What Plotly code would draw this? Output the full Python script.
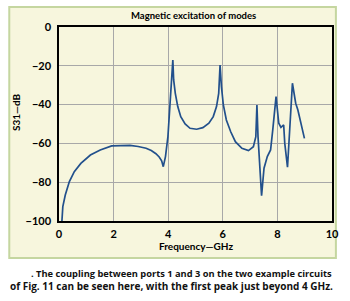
import plotly.graph_objects as go

freq_ghz = [0.107, 0.14, 0.23, 0.38, 0.56, 0.8, 1.15, 1.51, 1.93, 2.3, 2.6, 2.9, 3.19, 3.38, 3.55,
            3.67, 3.76, 3.82, 3.9, 3.99, 4.08, 4.14, 4.17,
            4.2, 4.26, 4.35, 4.46, 4.62, 4.8, 5.04, 5.27, 5.49, 5.65, 5.77, 5.85, 5.9,
            5.95, 6.02, 6.13, 6.29, 6.46, 6.7, 6.94,
            7.12, 7.21, 7.25, 7.29, 7.42, 7.51, 7.63, 7.75, 7.83, 7.95, 8.05, 8.13, 8.23,
            8.27, 8.37, 8.45, 8.55, 8.67, 8.75, 8.99]
s31_db = [-100, -92.6, -86.6, -79.7, -74.6, -70.3, -66, -63.4, -61.3, -61.1, -61, -61.6, -62.5, -63.7, -65.3,
          -67, -69, -72, -66.8, -56.5, -37.6, -22, -17,
          -27.3, -34.2, -41, -46.2, -50, -52.2, -52.7, -51.9, -49.6, -46.2, -41, -34.2, -19.6,
          -30.8, -40.2, -47.9, -54, -59.1, -62.5, -63.7,
          -61.7, -56.5, -40.2, -56.5, -87, -72.8, -66.8, -63.4, -53, -35.9, -49.6, -51.7, -50.5,
          -60, -72.3, -54.8, -29, -39.3, -42.8, -57.4]

x_ticks = [0, 2, 4, 6, 8, 10]
y_ticks = [0, -20, -40, -60, -80, -100]

title_text = "Magnetic excitation of modes"
x_title = "Frequency\u2014GHz"
y_title = "S31\u2014dB"
caption_1 = ". The coupling between ports 1 and 3 on the two example circuits"
caption_2 = "of Fig. 11 can be seen here, with the first peak just beyond 4 GHz."

cond = "Lato, sans-serif"

fig = go.Figure()
fig.add_trace(go.Scatter(x=freq_ghz, y=s31_db, mode="lines",
                         line=dict(color="#22508c", width=1.7), hoverinfo="skip"))

axis_common = dict(showline=True, linecolor="black", linewidth=1.5, mirror=True,
                   showgrid=True, gridcolor="#a8a8a8", gridwidth=1, zeroline=False,
                   ticks="", tickfont=dict(family=cond, size=11, color="black", weight="bold"))

fig.update_xaxes(range=[0, 10], tickvals=x_ticks, ticklabelstandoff=2, **axis_common)
fig.update_yaxes(range=[-100, 0], tickvals=y_ticks, ticklabelstandoff=4, **axis_common)

W, H = 350, 301
L, R, T, B = 59, 11, 27, 80
pw, ph = W - L - R, H - T - B

def px_x(p):
    return (p - L) / pw

def px_y(p):
    return (H - B - p) / ph

fig.add_shape(type="rect", xref="paper", yref="paper", layer="below",
              x0=px_x(8), x1=px_x(343), y0=px_y(258), y1=px_y(7),
              fillcolor="#f7f6dd", line=dict(color="#c5d6a0", width=2))

def label(text, x, y, size, fam=cond, angle=0, color="black"):
    fig.add_annotation(text=text, xref="paper", yref="paper", x=px_x(x), y=px_y(y),
                       xanchor="center", yanchor="middle", showarrow=False, textangle=angle,
                       font=dict(family=fam, size=size, color=color, weight="bold"))

label(title_text, 197, 16, 9.5)
label(x_title, 199, 246, 10)
label(y_title, 15, 112, 10, angle=-90)
label(caption_1, 185, 273, 9.3, fam="Open Sans, sans-serif", color="#111")
label(caption_2, 174, 286, 10, fam="Open Sans, sans-serif", color="#111")

fig.update_layout(width=W, height=H, margin=dict(l=L, r=R, t=T, b=B),
                  paper_bgcolor="white", plot_bgcolor="white", showlegend=False)

fig.write_html("out.html")
